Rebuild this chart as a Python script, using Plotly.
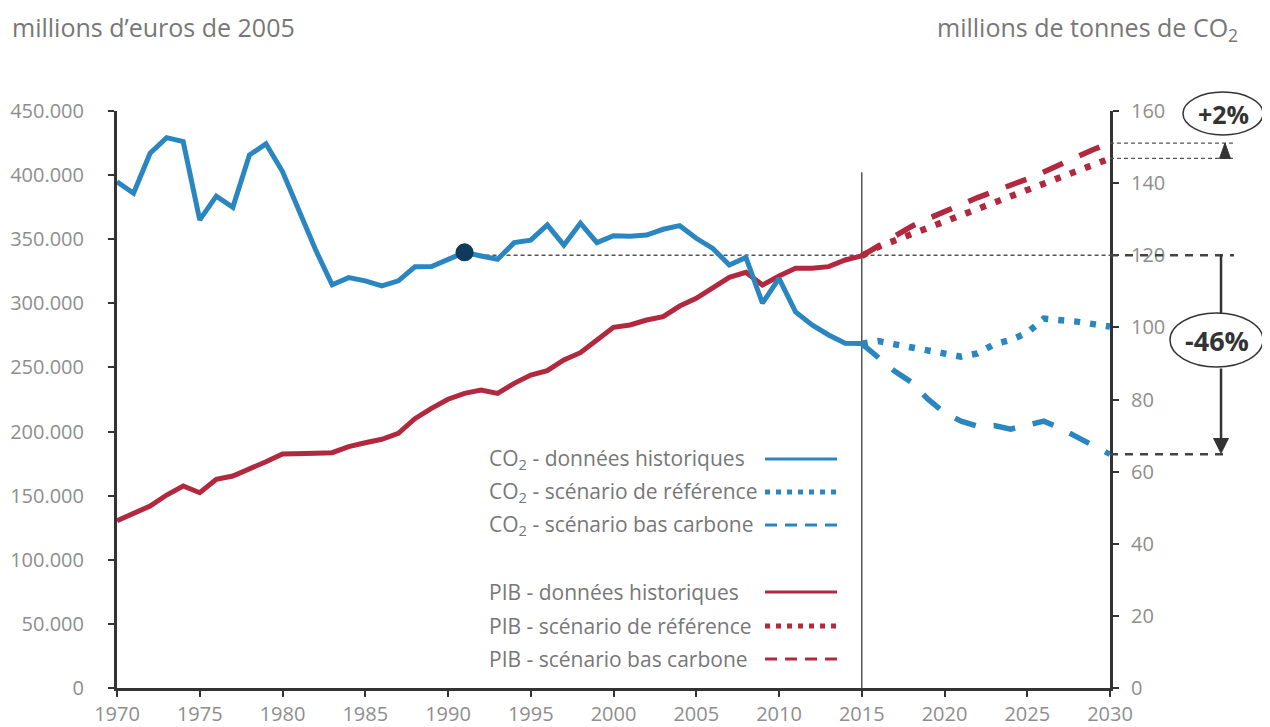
import plotly.graph_objects as go

# ---------------- data ----------------
years_hist = list(range(1970, 2016))
years_proj = list(range(2015, 2031))

co2_hist = [140.4, 137.2, 148.3, 152.6, 151.5, 129.8, 136.4, 133.3, 147.8, 150.9,
            143.2, 132.5, 121.5, 111.8, 113.8, 112.9, 111.5, 112.9, 116.8, 116.9,
            118.9, 120.8, 119.8, 118.9, 123.5, 124.2, 128.4, 122.8, 128.9, 123.5,
            125.4, 125.3, 125.6, 127.2, 128.2, 124.7, 121.9, 117.3, 119.4, 106.7,
            113.6, 104.3, 100.7, 97.9, 95.6, 95.5]
co2_ref = [95.5, 96.2, 95.3, 94.4, 93.3, 92.4, 91.9, 92.8, 95.3, 96.5,
           98.5, 102.4, 102.2, 101.6, 100.9, 100.2]
co2_bas = [95.5, 91.8, 87.8, 84.8, 80.1, 76.3, 74.0, 72.6, 72.8, 71.8,
           72.9, 74.0, 72.0, 69.5, 67.0, 64.8]

pib_hist = [130500, 135700, 141900, 150500, 157500, 152300, 162800, 165300, 170600, 176500,
            182500, 182500, 183000, 183500, 188200, 191300, 194000, 198600, 210000, 218100,
            225200, 229800, 232400, 229800, 237600, 244100, 247500, 255800, 261500, 271400,
            281300, 283100, 287000, 289600, 297900, 303900, 311700, 320300, 324200, 314300,
            321300, 327300, 327300, 328600, 333800, 337000]
pib_ref = [337000, 344000, 349000, 354000, 359000, 364000, 369000, 373000, 378000, 383000,
           388000, 393000, 398000, 403000, 408000, 413000]
pib_bas = [337000, 345000, 353000, 360000, 366000, 371000, 377000, 382500, 387000, 392000,
           397000, 402500, 408500, 414000, 420000, 425000]

base_year = 1991
base_co2 = 120
marker_co2 = co2_hist[years_hist.index(base_year)]

legend_labels = ["CO<sub>2</sub> - données historiques",
                 "CO<sub>2</sub> - scénario de référence",
                 "CO<sub>2</sub> - scénario bas carbone",
                 "PIB - données historiques",
                 "PIB - scénario de référence",
                 "PIB - scénario bas carbone"]

# ---------------- style ----------------
BLUE = "#2a86c0"
RED = "#b2283e"
NAVY = "#0f3b5a"
AX = "#333333"
TXT = "#8e8e8e"
LBL = "#777777"
FONT = "Open Sans"
NARROW = "Liberation Sans Narrow, Open Sans"
Y1MAX, Y2MAX = 450000, 160
PH = 577  # plot height in px
TOP_PAPER = (PH + 103) / PH  # figure top edge in paper units

fig = go.Figure()

# PIB (left axis)
fig.add_trace(go.Scatter(x=years_hist, y=pib_hist, mode="lines",
                         line=dict(color=RED, width=5), yaxis="y"))
fig.add_trace(go.Scatter(x=years_proj, y=pib_ref, mode="lines",
                         line=dict(color=RED, width=6.5, dash="6px,10px"), yaxis="y"))
fig.add_trace(go.Scatter(x=years_proj, y=pib_bas, mode="lines",
                         line=dict(color=RED, width=5.5, dash="22px,18px"), yaxis="y"))
# CO2 (right axis)
fig.add_trace(go.Scatter(x=years_hist, y=co2_hist, mode="lines",
                         line=dict(color=BLUE, width=5), yaxis="y2"))
fig.add_trace(go.Scatter(x=years_proj, y=co2_ref, mode="lines",
                         line=dict(color=BLUE, width=6.5, dash="6px,10px"), yaxis="y2"))
fig.add_trace(go.Scatter(x=years_proj, y=co2_bas, mode="lines",
                         line=dict(color=BLUE, width=5.5, dash="22px,18px"), yaxis="y2"))
fig.add_trace(go.Scatter(x=[base_year], y=[marker_co2], mode="markers",
                         marker=dict(color=NAVY, size=18), yaxis="y2"))

shapes = []
annotations = []

# vertical 2015 line
shapes.append(dict(type="line", xref="x", yref="paper", x0=2015, x1=2015, y0=0, y1=0.894,
                   line=dict(color="#555555", width=1.5), layer="below"))
# 1990 reference line inside plot
shapes.append(dict(type="line", xref="x", yref="y2", x0=base_year, x1=2030,
                   y0=base_co2, y1=base_co2, line=dict(color="#555555", width=1.5, dash="4px,3px"),
                   layer="below"))

# right-side markers
xr_end = 1.1249
shapes.append(dict(type="line", xref="paper", yref="paper", x0=1.0, x1=xr_end,
                   y0=base_co2 / Y2MAX, y1=base_co2 / Y2MAX,
                   line=dict(color="#444444", width=2.5, dash="8px,7px")))
shapes.append(dict(type="line", xref="paper", yref="paper", x0=1.0, x1=1.116,
                   y0=co2_bas[-1] / Y2MAX, y1=co2_bas[-1] / Y2MAX,
                   line=dict(color="#444444", width=2.5, dash="8px,7px")))
for v in (pib_bas[-1], pib_ref[-1]):
    shapes.append(dict(type="line", xref="paper", yref="paper", x0=1.0, x1=xr_end,
                       y0=v / Y1MAX, y1=v / Y1MAX,
                       line=dict(color="#555555", width=1.3, dash="4px,3px")))

# small up-triangle between the two PIB end lines
tx = 1.1158
ytop = pib_bas[-1] / Y1MAX
ybot = pib_ref[-1] / Y1MAX
dx = 0.0055
shapes.append(dict(type="path", xref="paper", yref="paper",
                   path=f"M {tx-dx} {ybot} L {tx+dx} {ybot} L {tx} {ytop} Z",
                   fillcolor="#333333", line=dict(color="#333333", width=1)))

# -46% arrow
ax_x = 1.1118
ell_top = 0.6499
ell_bot = 0.5563
shapes.append(dict(type="line", xref="paper", yref="paper", x0=ax_x, x1=ax_x,
                   y0=base_co2 / Y2MAX, y1=ell_top, line=dict(color="#333333", width=2.5)))
annotations.append(dict(xref="paper", yref="paper", x=ax_x, y=co2_bas[-1] / Y2MAX,
                        ax=0, ay=-(ell_bot - co2_bas[-1] / Y2MAX) * PH, axref="pixel", ayref="pixel",
                        showarrow=True, arrowhead=2, arrowsize=1.3, arrowwidth=2.5,
                        arrowcolor="#333333", text=""))

# ellipses
shapes.append(dict(type="circle", xref="paper", yref="paper", x0=1.0604, x1=1.1541,
                   y0=ell_bot, y1=ell_top, fillcolor="white", line=dict(color="#333333", width=1.5)))
shapes.append(dict(type="circle", xref="paper", yref="paper", x0=1.0735, x1=1.1541,
                   y0=0.9584, y1=1.0329, fillcolor="white", line=dict(color="#333333", width=1.5)))
annotations.append(dict(xref="paper", yref="paper", x=1.1073, y=0.6031, text="<b>-46%</b>",
                        xanchor="center", yanchor="middle",
                        showarrow=False, font=dict(family=FONT, size=27, color="#333333")))
annotations.append(dict(xref="paper", yref="paper", x=1.1138, y=0.9956, text="<b>+2%</b>",
                        xanchor="center", yanchor="middle",
                        showarrow=False, font=dict(family=FONT, size=25, color="#333333")))

# titles
annotations.append(dict(xref="paper", yref="paper", x=-0.1078, y=TOP_PAPER, xanchor="left",
                        yanchor="top", text="millions d’euros de 2005", showarrow=False,
                        font=dict(family=FONT, size=25, color=LBL)))
annotations.append(dict(xref="paper", yref="paper", x=1.1309, y=TOP_PAPER, xanchor="right",
                        yanchor="top", text="millions de tonnes de CO<sub>2</sub>", showarrow=False,
                        font=dict(family=FONT, size=25, color=LBL)))

# custom legend
leg_y = [0.3969, 0.3397, 0.2825, 0.1664, 0.1075, 0.0503]
leg_col = [BLUE, BLUE, BLUE, RED, RED, RED]
leg_style = ["solid", "dot", "dash", "solid", "dot", "dash"]
for lab, yy, col, st in zip(legend_labels, leg_y, leg_col, leg_style):
    annotations.append(dict(xref="paper", yref="paper", x=0.3726, y=yy, xanchor="left",
                            yanchor="middle", text=lab, showarrow=False,
                            font=dict(family=FONT, size=21, color=LBL)))
    if st == "solid":
        ln = dict(color=col, width=3)
    elif st == "dot":
        ln = dict(color=col, width=5, dash="5px,6px")
    else:
        ln = dict(color=col, width=3, dash="12px,8px")
    shapes.append(dict(type="line", xref="paper", yref="paper", x0=0.6526, x1=0.7251,
                       y0=yy, y1=yy, line=ln))

axis_common = dict(showgrid=False, zeroline=False, showline=True, linecolor=AX, linewidth=3,
                   ticks="outside", ticklen=6, tickwidth=2, tickcolor=AX, automargin=False)

fig.update_layout(
    width=1262, height=719,
    margin=dict(l=109, r=160, t=103, b=39, autoexpand=False),
    paper_bgcolor="white", plot_bgcolor="white",
    showlegend=False,
    separators=",.",
    xaxis=dict(range=[1970, 2030], tickvals=list(range(1970, 2031, 5)),
               tickfont=dict(family=NARROW, size=20, color=TXT), ticklabelstandoff=0,
               **axis_common),
    yaxis=dict(range=[0, Y1MAX], dtick=50000, tickformat=",d",
               tickfont=dict(family=FONT, size=20, color=TXT), ticklabelstandoff=20,
               **axis_common),
    yaxis2=dict(range=[0, Y2MAX], dtick=20, overlaying="y", side="right",
                tickfont=dict(family=FONT, size=20, color=TXT), ticklabelstandoff=8,
                **axis_common),
    shapes=shapes,
    annotations=annotations,
    font=dict(family=FONT),
)

fig.write_html("out.html")
